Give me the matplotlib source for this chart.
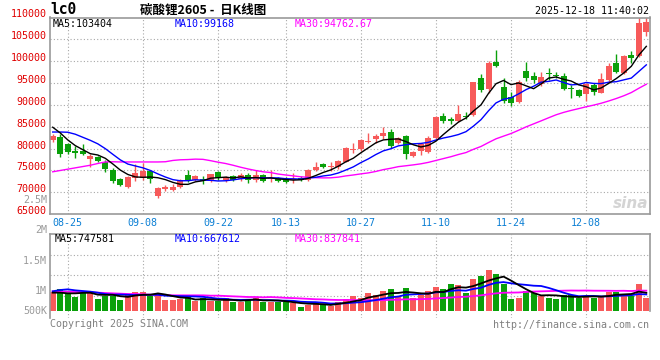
import numpy as np
import pandas as pd
import matplotlib
matplotlib.use("Agg")
import matplotlib.pyplot as plt

# lc0 / 碳酸锂2605 daily candles (08-21 .. 12-18)
opens = [81970, 82650, 80950, 79500, 79500, 77600, 78000, 77000, 75100, 73050,
         71300, 73200, 73200, 74800, 69150, 70750, 70520, 71280, 73920, 72930,
         73160, 72560, 74670, 72930, 73690, 73010, 73920, 72930, 74070, 73020,
         73310, 72940, 72930, 73390, 72930, 75050, 76550, 75800, 75800, 77000,
         79680, 79830, 81430, 82120, 82880, 83720, 81200, 82880, 78300, 79525,
         79300, 82350, 87530, 86700, 86390, 87460, 87680, 96070, 93560, 99810,
         94020, 91880, 90740, 97750, 96610, 94780, 97220, 96910, 96610, 93940,
         93400, 92410, 94550, 92790, 95690, 99660, 97300, 101410, 101200, 106600]
highs = [83340, 83340, 81400, 80600, 81050, 78800, 78400, 77350, 75500, 73300,
         73700, 76500, 76600, 75050, 71300, 71650, 71800, 73160, 75050, 74070,
         73690, 74300, 74900, 73770, 73920, 74450, 74520, 75050, 74300, 75200,
         73540, 73540, 74450, 73690, 75270, 76930, 76700, 76930, 77460, 80290,
         81200, 82270, 83490, 83340, 85015, 84400, 82730, 83030, 79525, 81200,
         82880, 87460, 88070, 87150, 89900, 88450, 95310, 97070, 100120, 102560,
         96070, 92950, 95690, 99890, 97600, 97450, 98360, 97450, 97370, 94550,
         93640, 95080, 95080, 97220, 99510, 101640, 101410, 102400, 110500, 110500]
lows = [81510, 78100, 78800, 77800, 78530, 75700, 77000, 74700, 72200, 71550,
        71050, 72500, 72800, 72250, 68650, 70350, 70300, 70900, 72410, 72560,
        71880, 72410, 72860, 72410, 72630, 72560, 72180, 72410, 72410, 72330,
        72410, 72030, 72180, 72630, 72630, 74900, 75570, 74900, 75420, 76850,
        78910, 79525, 81200, 81200, 82195, 80060, 80970, 77540, 78000, 78530,
        78910, 82200, 85780, 85630, 86160, 86700, 87460, 92870, 92790, 98590,
        90510, 89740, 90510, 95470, 94930, 94320, 95690, 96070, 93400, 91500,
        91880, 90960, 92260, 92640, 95310, 97370, 97070, 99660, 101000, 105760]
closes = [82960, 78800, 79200, 79100, 78760, 78400, 77250, 75400, 72650, 71750,
          73400, 74450, 74950, 73000, 70900, 71250, 71280, 72785, 72930, 73765,
          72560, 74140, 73390, 73540, 72785, 73920, 72785, 73920, 72560, 73390,
          72630, 72260, 73160, 72930, 75050, 75800, 75800, 76030, 77160, 80130,
          79900, 81970, 81740, 82880, 83490, 80670, 82350, 78690, 79220, 80970,
          82500, 87150, 86390, 86390, 87910, 87230, 95160, 93400, 99510, 98970,
          90960, 90360, 95310, 96230, 95690, 96460, 96990, 96610, 93560, 93710,
          92110, 94780, 93020, 95850, 98900, 97600, 101180, 100650, 108660, 108890]
volume_k = [793, 902, 683, 588, 752, 820, 506, 629, 615, 465,
            683, 779, 779, 629, 738, 451, 451, 492, 560, 396,
            533, 396, 410, 547, 383, 383, 506, 533, 369, 383,
            369, 355, 342, 178, 260, 328, 273, 205, 383, 492,
            615, 533, 738, 656, 820, 902, 588, 943, 533, 656,
            820, 984, 902, 1107, 1066, 738, 1312, 1435, 1681, 1517,
            1107, 492, 533, 820, 738, 615, 533, 492, 656, 656,
            533, 615, 533, 615, 779, 779, 697, 615, 1107, 533]

ma5_head = [84900, 83600, 82000, 80700]
ma10_head = [83800, 83800, 83750, 83300, 82600, 81900, 81100, 80000, 78700]
ma30_head = [74700, 75000, 75300, 75600, 75900, 76200, 76600, 76950, 77000, 76950,
             76950, 76950, 76950, 76950, 76950, 77000, 77300, 77450, 77500, 77600,
             77550, 77250, 76900, 76600, 76200, 75750, 75350, 75000, 74700]
vma5_head = [752, 752, 724, 724]
vma10_head = [807, 861, 888, 847, 820, 793, 752, 697, 670]
vma30_head = [807, 793, 793, 779, 779, 765, 752, 738, 724, 711,
              697, 697, 683, 670, 656, 656, 642, 642, 642, 642,
              642, 629, 629, 615, 601, 588, 574, 574, 560]

ma_labels = ["MA5:103404", "MA10:99168", "MA30:94762.67"]
vma_labels = ["MA5:747581", "MA10:667612", "MA30:837841"]
tick_dates = ["08-25", "09-08", "09-22", "10-13", "10-27", "11-10", "11-24", "12-08"]

days = pd.bdate_range("2025-08-21", "2025-12-18")
days = days[(days < "2025-10-01") | (days > "2025-10-08")]
day_labels = list(days.strftime("%m-%d"))
tick_pos = [day_labels.index(d) for d in tick_dates]


def moving(values, n, head):
    out = pd.Series(values, dtype=float).rolling(n).mean().to_numpy()
    out[:len(head)] = head
    return out


o = np.array(opens); h = np.array(highs); l = np.array(lows); c = np.array(closes)
vol = np.array(volume_k) * 1000.0
x = np.arange(len(c))
RED, GREEN = "#f75a5a", "#0aa00a"
cols = np.where(c >= o, RED, GREEN)

W, H = 660, 360
MONO = "DejaVu Sans Mono"
GRID = dict(color="#a8a8a8", linestyle=(0, (1, 2)), linewidth=0.8)


def box(left, top, right, bottom):
    return [left / W, 1 - bottom / H, (right - left) / W, (bottom - top) / H]


def ftext(px, py, s, **kw):
    kw.setdefault("family", MONO)
    kw.setdefault("size", 7.2)
    kw.setdefault("va", "center")
    fig.text(px / W, 1 - py / H, s, **kw)


fig = plt.figure(figsize=(6.6, 3.6), dpi=100)
ax = fig.add_axes(box(50, 17.5, 650, 214.2))
axv = fig.add_axes(box(50, 234.3, 650, 318))

# price panel
ax.vlines(x, l, h, colors=cols, linewidth=1)
ax.bar(x, np.maximum(np.abs(c - o), 230), bottom=np.minimum(o, c), width=0.8,
       color=cols, linewidth=0)
ax.plot(x, moving(c, 30, ma30_head), color="#ff00ff", lw=1)
ax.plot(x, moving(c, 10, ma10_head), color="#0000ff", lw=1)
ax.plot(x, moving(c, 5, ma5_head), color="black", lw=1)

ax.set_xlim(-0.36, 79.49)
ax.set_ylim(65000, 110000)
ax.set_yticks(np.arange(65000, 110001, 5000))
ax.set_xticks(tick_pos)
ax.set_xticklabels(tick_dates)
ax.grid(True, **GRID)
ax.set_axisbelow(True)
ax.tick_params(length=0, labelsize=7.2)
ax.tick_params(axis="y", colors="#e00000", pad=2.5)
ax.tick_params(axis="x", colors="#0b7fd4", pad=3)
for lbl in ax.get_xticklabels() + ax.get_yticklabels():
    lbl.set_family(MONO)
for lbl in ax.get_yticklabels():
    lbl.set_va("baseline")
for sp in ax.spines.values():
    sp.set_color("#9a9a9a")
    sp.set_linewidth(1.2)

# volume panel
vtop = 76.7 * 41000
axv.bar(x, vol, width=0.8, color=cols, linewidth=0)
axv.plot(x, moving(volume_k, 30, vma30_head) * 1000, color="#ff00ff", lw=1.3)
axv.plot(x, moving(volume_k, 10, vma10_head) * 1000, color="#0000ff", lw=1.3)
axv.plot(x, moving(volume_k, 5, vma5_head) * 1000, color="black", lw=1.3)
axv.set_xlim(-0.36, 79.49)
axv.set_ylim(-7 * 41000, vtop)
axv.set_xticks(tick_pos)
axv.set_yticks([635500, 1459300, 2296000])
axv.grid(True, **GRID)
axv.set_axisbelow(True)
axv.tick_params(length=0, labelbottom=False, labelleft=False)
for sp in axv.spines.values():
    sp.set_color("#9a9a9a")
    sp.set_linewidth(1.2)
axv.spines["bottom"].set_visible(False)
axv.spines["right"].set_bounds(0, vtop)

# texts
ftext(50, 10, "lc0", weight="bold", size=10.5)
ftext(140, 10, "碳酸锂2605 -  日K线图", family=["Noto Sans CJK SC", "DejaVu Sans"],
      size=9, weight="bold")
ftext(649, 11, "2025-12-18 11:40:02", ha="right")
for px, s, col in zip([53, 175, 295], ma_labels, ["black", "#0000ff", "#ff00ff"]):
    ftext(px, 24, s, color=col)
for px, s, col in zip([55, 175, 295], vma_labels, ["black", "#0000ff", "#ff00ff"]):
    ftext(px, 238.5, s, color=col)
for py, s in zip([200, 230, 260.5, 290.7, 311], ["2.5M", "2M", "1.5M", "1M", "500K"]):
    ftext(47, py, s, ha="right", color="#9a9a9a")
ftext(50, 324, "Copyright 2025 SINA.COM", color="#808080")
ftext(649, 324.5, "http://finance.sina.com.cn", ha="right", color="#808080")
ftext(648, 203, "sina", ha="right", family="DejaVu Sans", size=11, weight="bold",
      style="italic", color="#d4d4d4")

fig.savefig("out.png", dpi=100)
